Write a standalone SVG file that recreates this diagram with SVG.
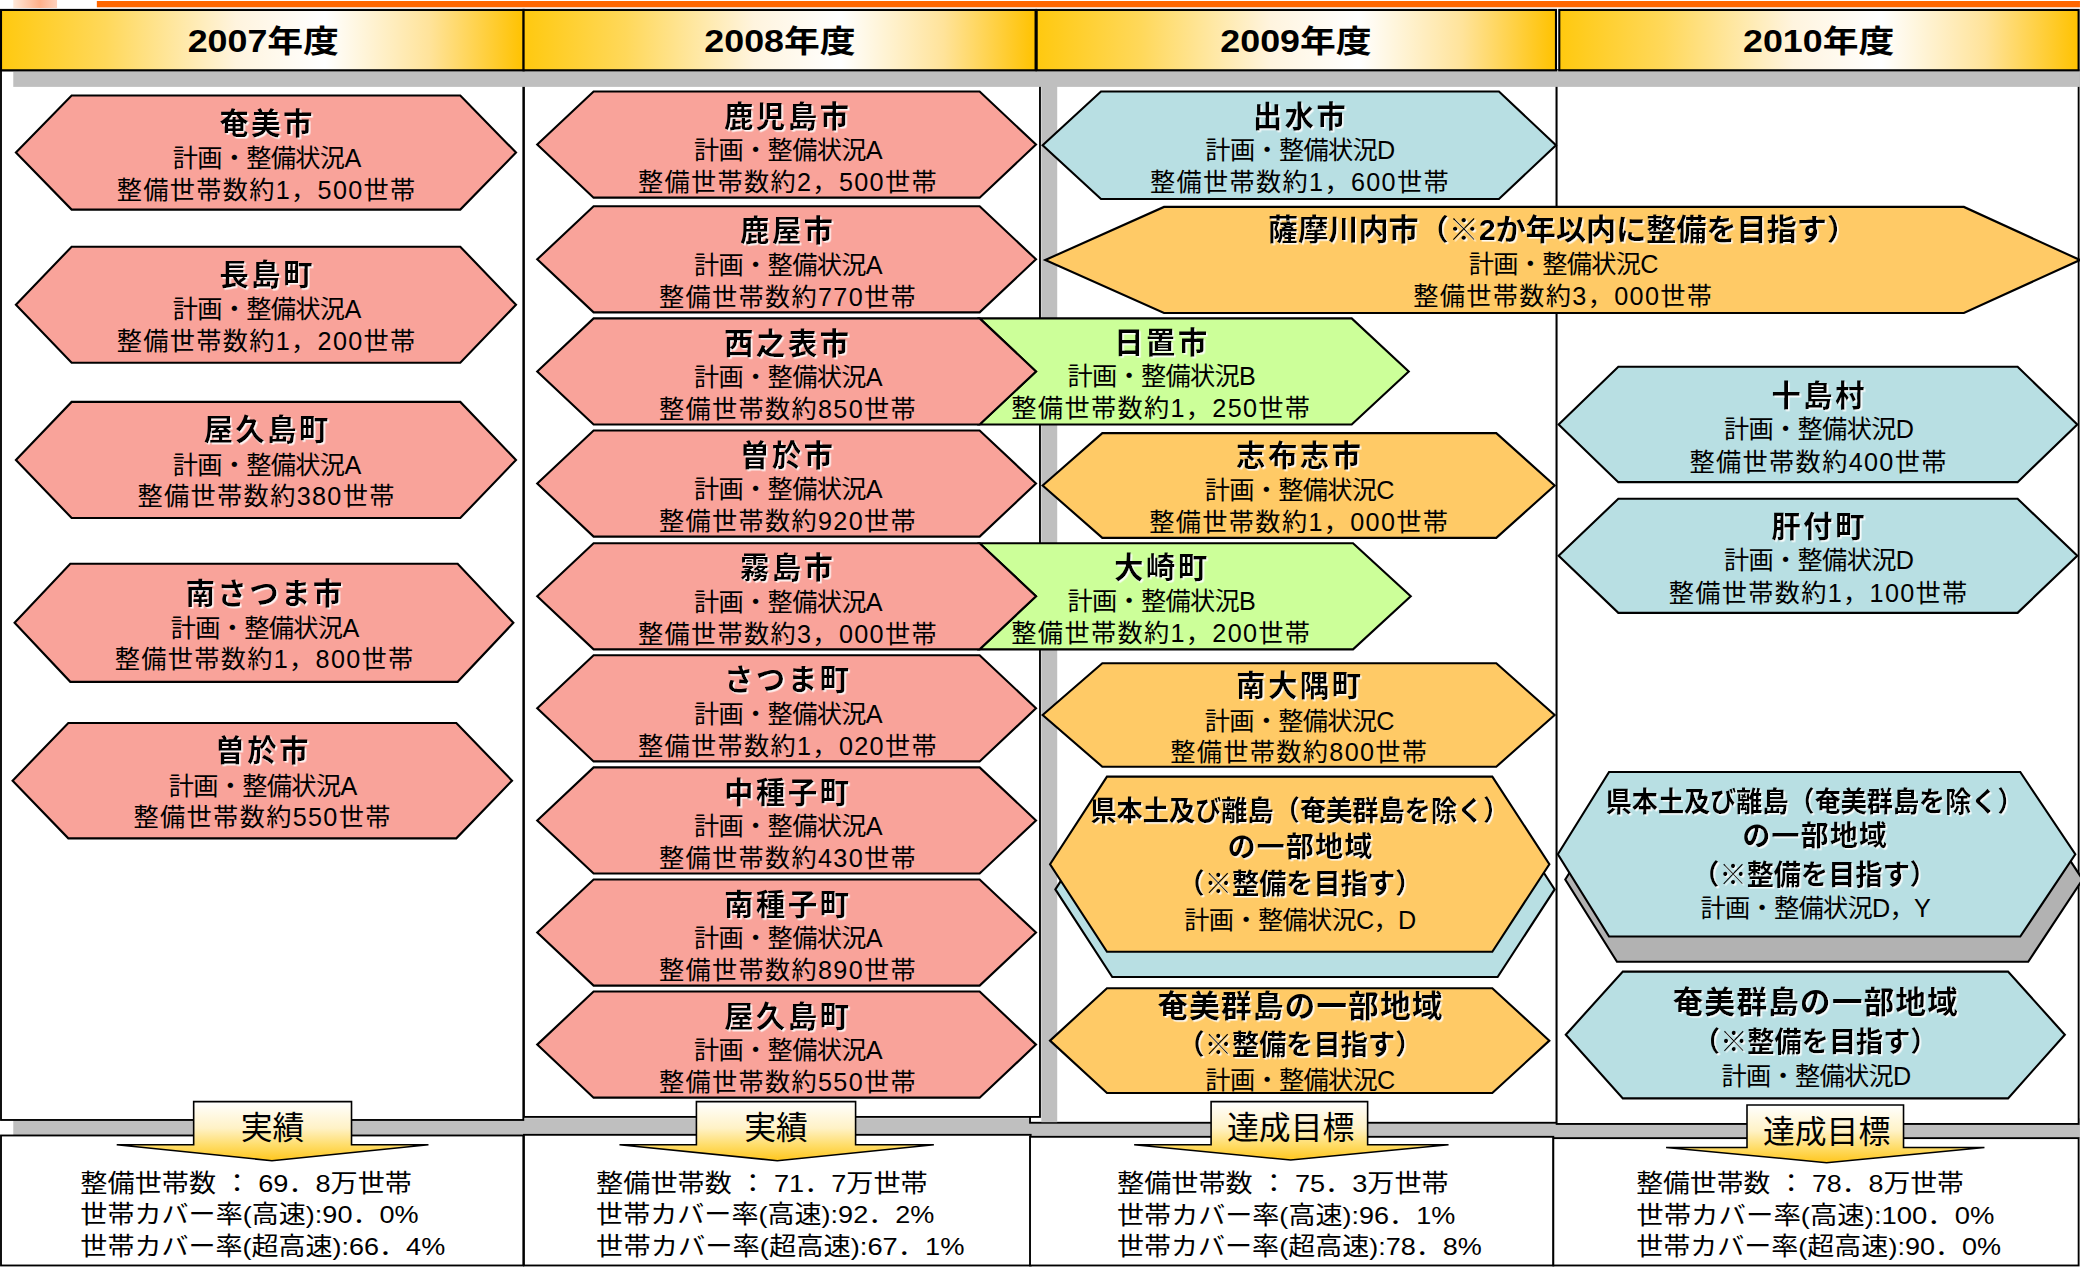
<svg xmlns="http://www.w3.org/2000/svg" width="2080" height="1268" viewBox="0 0 2080 1268">
<defs>
<linearGradient id="gh" x1="0" y1="0" x2="1" y2="0">
<stop offset="0" stop-color="#FFC90F"/>
<stop offset="0.2" stop-color="#FFD85A"/>
<stop offset="0.45" stop-color="#FFF4DE"/>
<stop offset="0.62" stop-color="#FFFFFF"/>
<stop offset="0.82" stop-color="#FFE39A"/>
<stop offset="1" stop-color="#FFC200"/>
</linearGradient>
<linearGradient id="ga" x1="0" y1="0" x2="0" y2="1">
<stop offset="0" stop-color="#FFFFFF"/>
<stop offset="0.45" stop-color="#FFF2C6"/>
<stop offset="0.75" stop-color="#FFDC66"/>
<stop offset="1" stop-color="#FFC61E"/>
</linearGradient>
<linearGradient id="gc" x1="0" y1="0" x2="1" y2="0">
<stop offset="0" stop-color="#FFE9DA"/>
<stop offset="0.6" stop-color="#FFB08A"/>
<stop offset="1" stop-color="#FFD2BE"/>
</linearGradient>
<filter id="gw" x="-5%" y="-20%" width="115%" height="150%">
<feDropShadow dx="1.2" dy="1.2" stdDeviation="0.5" flood-color="#FFFFFF" flood-opacity="0.9"/>
</filter>
<style>
.hd{fill:url(#gh);stroke:#000;stroke-width:1.6}
.ht{font-family:"Liberation Sans","Noto Sans CJK JP",sans-serif;font-weight:700;font-size:23px;text-anchor:middle}
.cb{fill:#fff;stroke:#000;stroke-width:1.4}
.sh{fill:#BFBFBF}
.n{stroke:#000;stroke-width:1.6;stroke-linejoin:miter}
.pk{fill:#F9A39A}
.bl{fill:#B8DFE3}
.or{fill:#FFCA66}
.gr{fill:#CCFF99}
.gy{fill:#B2B2B2}
.t{font-family:"Liberation Sans","Noto Sans CJK JP",sans-serif;font-weight:700;font-size:22px;letter-spacing:2px;text-anchor:middle;filter:url(#gw)}
.b{font-family:"Liberation Sans","Noto Sans CJK JP",sans-serif;font-size:19px;letter-spacing:1px;text-anchor:middle}
.p{letter-spacing:-0.5px}
.r{font-family:"Liberation Sans","Noto Sans CJK JP",sans-serif;font-size:18.5px}
.l{font-family:"Liberation Sans","Noto Sans CJK JP",sans-serif;font-size:24px;text-anchor:middle}
.ar{fill:url(#ga);stroke:#000;stroke-width:1.2;stroke-linejoin:miter}
</style>
</defs>
<rect width="2080" height="1268" fill="#fff"/>
<g transform="scale(1.3265)">
<g id="frame">
<rect x="10" y="0" width="33" height="6" fill="url(#gc)"/>
<rect x="73" y="0.75" width="1495" height="4.75" fill="#FF6600"/>
<rect class="sh" x="10" y="843" width="1558" height="15"/>
<rect class="cb" x="776.5" y="53" width="397" height="793.4"/>
<rect class="cb" x="1173.5" y="53" width="393.5" height="794.3"/>
<rect class="cb" x="0.75" y="53" width="393.75" height="791.3"/>
<rect class="cb" x="395" y="53" width="389" height="789"/>
<rect class="sh" x="785" y="53" width="12" height="793"/>
<rect class="sh" x="10" y="53" width="1558" height="12.5"/>
<rect class="cb" x="0.75" y="856" width="393.75" height="98"/>
<rect class="cb" x="395" y="855.5" width="382" height="98.5"/>
<rect class="cb" x="776.5" y="857" width="394.5" height="97"/>
<rect class="cb" x="1171" y="858" width="396" height="96"/>
</g>
<g id="headers">
<g id="h2007"><rect class="hd" x="0.75" y="7.5" width="394" height="45.5"/><text class="ht" x="198.5" y="39.5" textLength="114" lengthAdjust="spacingAndGlyphs">2007年度</text></g>
<g id="h2008"><rect class="hd" x="394.7" y="7.5" width="386" height="45.5"/><text class="ht" x="588" y="39.5" textLength="114" lengthAdjust="spacingAndGlyphs">2008年度</text></g>
<g id="h2009"><rect class="hd" x="781.5" y="7.5" width="391.5" height="45.5"/><text class="ht" x="977" y="39.5" textLength="114" lengthAdjust="spacingAndGlyphs">2009年度</text></g>
<g id="h2010"><rect class="hd" x="1175.5" y="7.5" width="391.5" height="45.5"/><text class="ht" x="1371" y="39.5" textLength="114" lengthAdjust="spacingAndGlyphs">2010年度</text></g>
</g>

<g id="n2007-amami"><polygon class="n pk" points="12,115 54,72 347,72 389,115 347,158 54,158"/>
<text class="t" x="201.5" y="101">奄美市</text><text class="b p" x="201" y="126">計画・整備状況A</text><text class="b" x="201" y="150">整備世帯数約1，500世帯</text></g>
<g id="n2007-nagashima"><polygon class="n pk" points="12,229.75 54,186 347,186 389,229.75 347,273.5 54,273.5"/>
<text class="t" x="201.5" y="215">長島町</text><text class="b p" x="201" y="240">計画・整備状況A</text><text class="b" x="201" y="264">整備世帯数約1，200世帯</text></g>
<g id="n2007-yakushima"><polygon class="n pk" points="12,346.75 54,303 347,303 389,346.75 347,390.5 54,390.5"/>
<text class="t" x="201.5" y="332">屋久島町</text><text class="b p" x="201" y="357">計画・整備状況A</text><text class="b" x="201" y="381">整備世帯数約380世帯</text></g>
<g id="n2007-minamisatsuma"><polygon class="n pk" points="11,469.5 53,425 345,425 387,469.5 345,514 53,514"/>
<text class="t" x="200" y="455">南さつま市</text><text class="b p" x="199.5" y="480">計画・整備状況A</text><text class="b" x="199.5" y="503.5">整備世帯数約1，800世帯</text></g>
<g id="n2007-soo"><polygon class="n pk" points="9.5,588.5 51.5,545 344,545 386,588.5 344,632 51.5,632"/>
<text class="t" x="198.5" y="574">曽於市</text><text class="b p" x="198" y="599">計画・整備状況A</text><text class="b" x="198" y="623">整備世帯数約550世帯</text></g>

<g id="n2008-hioki"><polygon class="n gr" points="738.5,240 1019,240 1062,280 1019,320 738.5,320 781,280"/></g>
<g id="n2008-osaki"><polygon class="n gr" points="738.5,409.5 1020,409.5 1063.5,449.5 1020,489.5 738.5,489.5 781,449.5"/></g>

<g id="n2008-kagoshima"><polygon class="n pk" points="405,109 447.5,69 738.5,69 781,109 738.5,149 447.5,149"/>
<text class="t" x="594" y="95.5">鹿児島市</text><text class="b p" x="594" y="120">計画・整備状況A</text><text class="b" x="594" y="144">整備世帯数約2，500世帯</text></g>
<g id="n2008-kanoya"><polygon class="n pk" points="405,195.5 447.5,155.5 738.5,155.5 781,195.5 738.5,235.5 447.5,235.5"/>
<text class="t" x="594" y="182">鹿屋市</text><text class="b p" x="594" y="206.5">計画・整備状況A</text><text class="b" x="594" y="230.5">整備世帯数約770世帯</text></g>
<g id="n2008-nishinoomote"><polygon class="n pk" points="405,280 447.5,240 738.5,240 781,280 738.5,320 447.5,320"/>
<text class="t" x="594" y="266.5">西之表市</text><text class="b p" x="594" y="291">計画・整備状況A</text><text class="b" x="594" y="315">整備世帯数約850世帯</text></g>
<g id="n2008-soo"><polygon class="n pk" points="405,364.5 447.5,324.5 738.5,324.5 781,364.5 738.5,404.5 447.5,404.5"/>
<text class="t" x="594" y="351">曽於市</text><text class="b p" x="594" y="375.5">計画・整備状況A</text><text class="b" x="594" y="399.5">整備世帯数約920世帯</text></g>
<g id="n2008-kirishima"><polygon class="n pk" points="405,449.5 447.5,409.5 738.5,409.5 781,449.5 738.5,489.5 447.5,489.5"/>
<text class="t" x="594" y="436">霧島市</text><text class="b p" x="594" y="460.5">計画・整備状況A</text><text class="b" x="594" y="484.5">整備世帯数約3，000世帯</text></g>
<g id="n2008-satsuma"><polygon class="n pk" points="405,534 447.5,494 738.5,494 781,534 738.5,574 447.5,574"/>
<text class="t" x="594" y="520.5">さつま町</text><text class="b p" x="594" y="545">計画・整備状況A</text><text class="b" x="594" y="569">整備世帯数約1，020世帯</text></g>
<g id="n2008-nakatane"><polygon class="n pk" points="405,618.5 447.5,578.5 738.5,578.5 781,618.5 738.5,658.5 447.5,658.5"/>
<text class="t" x="594" y="605">中種子町</text><text class="b p" x="594" y="629.5">計画・整備状況A</text><text class="b" x="594" y="653.5">整備世帯数約430世帯</text></g>
<g id="n2008-minamitane"><polygon class="n pk" points="405,703 447.5,663 738.5,663 781,703 738.5,743 447.5,743"/>
<text class="t" x="594" y="689.5">南種子町</text><text class="b p" x="594" y="714">計画・整備状況A</text><text class="b" x="594" y="738">整備世帯数約890世帯</text></g>
<g id="n2008-yakushima"><polygon class="n pk" points="405,787.5 447.5,747.5 738.5,747.5 781,787.5 738.5,827.5 447.5,827.5"/>
<text class="t" x="594" y="774">屋久島町</text><text class="b p" x="594" y="798.5">計画・整備状況A</text><text class="b" x="594" y="822.5">整備世帯数約550世帯</text></g>

<g id="n2008-hioki-text"><text class="t" x="876" y="266">日置市</text><text class="b p" x="875.5" y="290.5">計画・整備状況B</text><text class="b" x="875.5" y="314.5">整備世帯数約1，250世帯</text></g>
<g id="n2008-osaki-text"><text class="t" x="876" y="436">大崎町</text><text class="b p" x="875.5" y="460">計画・整備状況B</text><text class="b" x="875.5" y="484">整備世帯数約1，200世帯</text></g>

<g id="n2009-izumi"><polygon class="n bl" points="786,109.5 830,69 1130,69 1173,109.5 1130,150 830,150"/>
<text class="t" x="980.5" y="95.5">出水市</text><text class="b p" x="980" y="120">計画・整備状況D</text><text class="b" x="980" y="144">整備世帯数約1，600世帯</text></g>
<g id="n2009-satsumasendai"><polygon class="n or" points="788,196 877.5,156 1480.5,156 1568,196 1480.5,236 877.5,236"/>
<text class="t" x="1178" y="181" textLength="444" lengthAdjust="spacingAndGlyphs" style="letter-spacing:0">薩摩川内市（※2か年以内に整備を目指す）</text><text class="b p" x="1178.5" y="206">計画・整備状況C</text><text class="b" x="1178.5" y="230">整備世帯数約3，000世帯</text></g>
<g id="n2009-shibushi"><polygon class="n or" points="786,366 831,326.5 1128,326.5 1172,366 1128,405.5 831,405.5"/>
<text class="t" x="980" y="351.5">志布志市</text><text class="b p" x="979.5" y="376.5">計画・整備状況C</text><text class="b" x="979.5" y="400.5">整備世帯数約1，000世帯</text></g>
<g id="n2009-minamiosumi"><polygon class="n or" points="786,539 831,500 1128,500 1172,539 1128,578 831,578"/>
<text class="t" x="980" y="525">南大隅町</text><text class="b p" x="979.5" y="550">計画・整備状況C</text><text class="b" x="979.5" y="574">整備世帯数約800世帯</text></g>
<g id="n2009-mainland"><polygon class="n bl" points="795.6,670.5 838.5,604.5 1129,604.5 1172,670.5 1129,736.5 838.5,736.5"/>
<polygon class="n or" points="791.6,651.5 834.5,585.5 1125,585.5 1168,651.5 1125,717.5 834.5,717.5"/>
<text class="t" x="980" y="619" textLength="316" lengthAdjust="spacingAndGlyphs" style="font-size:21px;letter-spacing:0">県本土及び離島（奄美群島を除く）</text>
<text class="t" x="980.5" y="646" style="font-size:21px;letter-spacing:1px">の一部地域</text>
<text class="t" x="980" y="674" textLength="184.5" lengthAdjust="spacingAndGlyphs" style="font-size:21px;letter-spacing:0">（※整備を目指す）</text>
<text class="b p" x="980" y="700">計画・整備状況C，D</text></g>
<g id="n2009-amamigunto"><polygon class="n or" points="791.6,784.5 834.5,745 1125,745 1168,784.5 1125,824 834.5,824"/>
<text class="t" x="980.5" y="767" style="font-size:23px;letter-spacing:1px">奄美群島の一部地域</text>
<text class="t" x="980" y="795" textLength="184.5" lengthAdjust="spacingAndGlyphs" style="font-size:21px;letter-spacing:0">（※整備を目指す）</text>
<text class="b p" x="980" y="821">計画・整備状況C</text></g>

<g id="n2010-toshima"><polygon class="n bl" points="1175,320 1220,276.5 1521,276.5 1566,320 1521,363.5 1220,363.5"/>
<text class="t" x="1371.5" y="306">十島村</text><text class="b p" x="1371" y="330.5">計画・整備状況D</text><text class="b" x="1371" y="355">整備世帯数約400世帯</text></g>
<g id="n2010-kimotsuki"><polygon class="n bl" points="1175,419 1220,376 1521,376 1566,419 1521,462 1220,462"/>
<text class="t" x="1371.5" y="404.5">肝付町</text><text class="b p" x="1371" y="429">計画・整備状況D</text><text class="b" x="1371" y="453.5">整備世帯数約1，100世帯</text></g>
<g id="n2010-mainland"><polygon class="n gy" points="1180,663 1219,601 1529,601 1570,663 1529,725 1219,725"/>
<polygon class="n bl" points="1174.4,644 1213,582 1523,582 1564.5,644 1523,706 1213,706"/>
<text class="t" x="1368" y="612" textLength="315" lengthAdjust="spacingAndGlyphs" style="font-size:21px;letter-spacing:0">県本土及び離島（奄美群島を除く）</text>
<text class="t" x="1368.5" y="638" style="font-size:21px;letter-spacing:1px">の一部地域</text>
<text class="t" x="1368" y="667" textLength="184.5" lengthAdjust="spacingAndGlyphs" style="font-size:21px;letter-spacing:0">（※整備を目指す）</text>
<text class="b p" x="1368.5" y="691">計画・整備状況D，Y</text></g>
<g id="n2010-amamigunto"><polygon class="n bl" points="1180.4,780 1223.4,732.5 1513.8,732.5 1556.6,780 1513.8,828 1223.4,828"/>
<text class="t" x="1369" y="764" style="font-size:23px;letter-spacing:1px">奄美群島の一部地域</text>
<text class="t" x="1368.5" y="793" textLength="184.5" lengthAdjust="spacingAndGlyphs" style="font-size:21px;letter-spacing:0">（※整備を目指す）</text>
<text class="b p" x="1369" y="818">計画・整備状況D</text></g>

<g id="connectors">
<g id="a2007"><polygon class="ar" points="146,830.5 265,830.5 265,863 323,863 205,875 88,863 146,863"/><text class="l" x="205.5" y="859">実績</text></g>
<g id="a2008"><polygon class="ar" points="525,830.5 645,830.5 645,863 704,863 586,875 467,863 525,863"/><text class="l" x="585" y="859">実績</text></g>
<g id="a2009"><polygon class="ar" points="913,830.5 1031,830.5 1031,863 1092,863 973,874.5 855,863 913,863"/><text class="l" x="973" y="859">達成目標</text></g>
<g id="a2010"><polygon class="ar" points="1317,833 1435,833 1435,865 1496,865 1377,876.5 1256,865 1317,865"/><text class="l" x="1377" y="861.5">達成目標</text></g>
</g>

<g id="r2007"><text class="r" x="60.6" y="898.4" textLength="250" lengthAdjust="spacingAndGlyphs">整備世帯数 ： 69．8万世帯</text><text class="r" x="60.6" y="922.2" textLength="255" lengthAdjust="spacingAndGlyphs">世帯カバー率(高速):90．0%</text><text class="r" x="60.6" y="946" textLength="275" lengthAdjust="spacingAndGlyphs">世帯カバー率(超高速):66．4%</text></g>
<g id="r2008"><text class="r" x="449.4" y="898.4" textLength="250" lengthAdjust="spacingAndGlyphs">整備世帯数 ： 71．7万世帯</text><text class="r" x="449.4" y="922.2" textLength="255" lengthAdjust="spacingAndGlyphs">世帯カバー率(高速):92．2%</text><text class="r" x="449.4" y="946" textLength="277.7" lengthAdjust="spacingAndGlyphs">世帯カバー率(超高速):67．1%</text></g>
<g id="r2009"><text class="r" x="842.1" y="898.4" textLength="250" lengthAdjust="spacingAndGlyphs">整備世帯数 ： 75．3万世帯</text><text class="r" x="842.1" y="923" textLength="255" lengthAdjust="spacingAndGlyphs">世帯カバー率(高速):96．1%</text><text class="r" x="842.1" y="946" textLength="275" lengthAdjust="spacingAndGlyphs">世帯カバー率(超高速):78．8%</text></g>
<g id="r2010"><text class="r" x="1233.5" y="898.4" textLength="247" lengthAdjust="spacingAndGlyphs">整備世帯数 ： 78．8万世帯</text><text class="r" x="1233.5" y="923" textLength="270" lengthAdjust="spacingAndGlyphs">世帯カバー率(高速):100．0%</text><text class="r" x="1233.5" y="946" textLength="275" lengthAdjust="spacingAndGlyphs">世帯カバー率(超高速):90．0%</text></g>
</g>
</svg>
